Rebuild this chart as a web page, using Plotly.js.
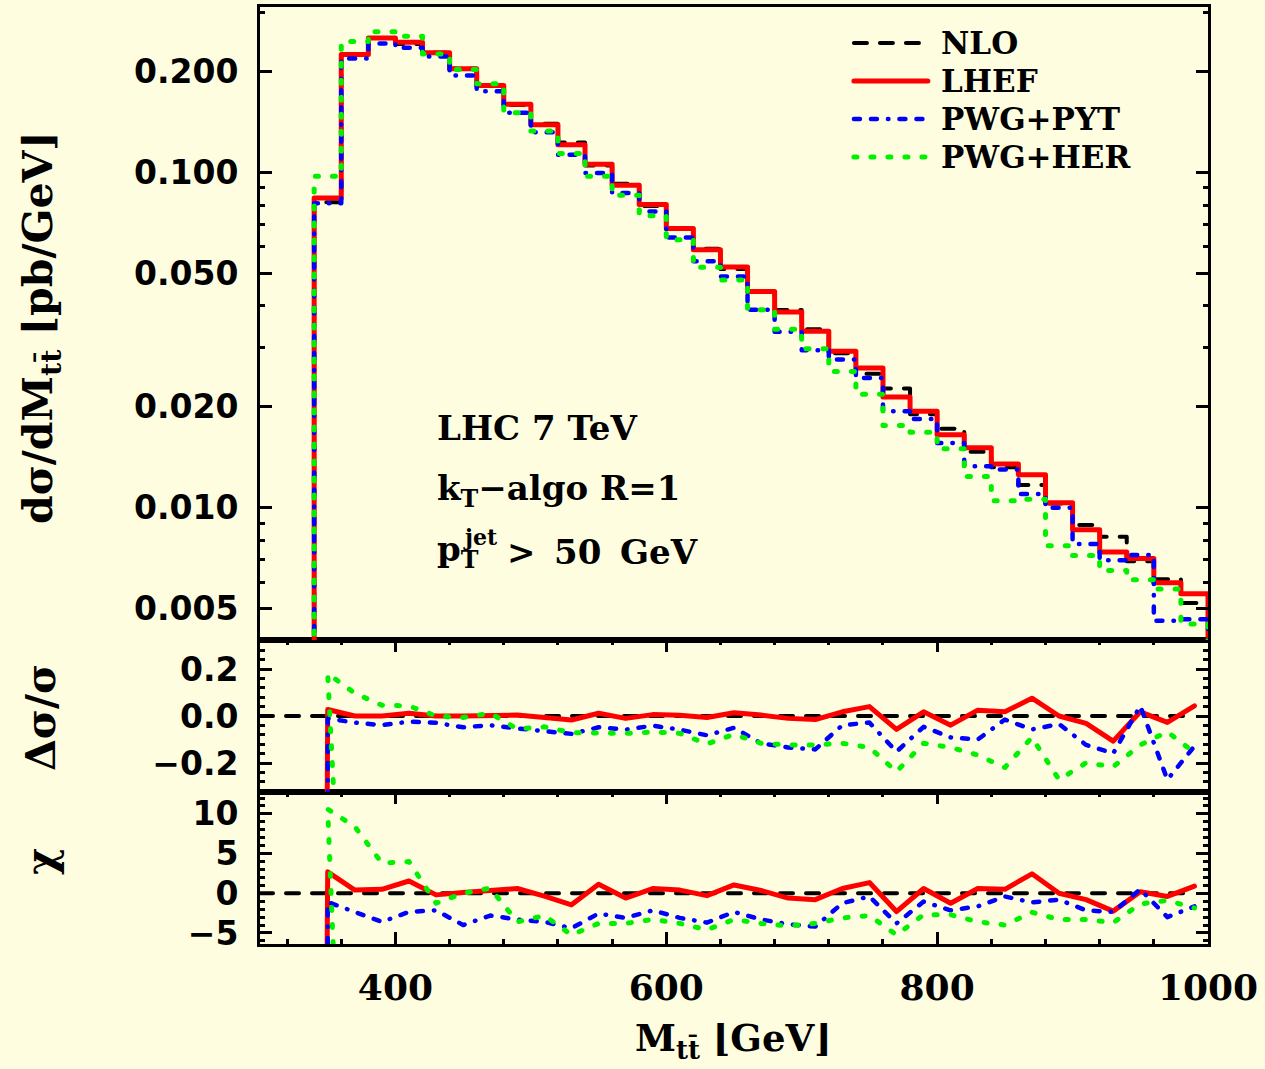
<!DOCTYPE html>
<html>
<head>
<meta charset="utf-8">
<script src="https://cdn.plot.ly/plotly-3.0.1.min.js"></script>
<style>
  html, body { margin: 0; padding: 0; background: #fffde0; }
  #chart { width: 1265px; height: 1069px; }
  .scatterlayer path.js-line, .shapelayer path { stroke-linecap: round; stroke-linejoin: round; }
</style>
</head>
<body>
<div id="chart"></div>
<script>
// M_tt bins (GeV): 20 GeV wide, 340 - 1000
const binEdges = [340, 360, 380, 400, 420, 440, 460, 480, 500, 520, 540, 560, 580, 600, 620, 640, 660,
  680, 700, 720, 740, 760, 780, 800, 820, 840, 860, 880, 900, 920, 940, 960, 980, 1000];
const binCentres = [350, 370, 390, 410, 430, 450, 470, 490, 510, 530, 550, 570, 590, 610, 630, 650, 670,
  690, 710, 730, 750, 770, 790, 810, 830, 850, 870, 890, 910, 930, 950, 970, 990];

// dsigma/dM_tt [pb/GeV] per bin
const nloXsec = [0.0816, 0.225, 0.252, 0.242, 0.228, 0.204, 0.182, 0.159, 0.140, 0.123, 0.105, 0.0926,
  0.0795, 0.0679, 0.0593, 0.0516, 0.0440, 0.0389, 0.0341, 0.0289, 0.0251, 0.0227, 0.0190, 0.0172,
  0.0147, 0.0132, 0.0117, 0.0103, 0.00888, 0.0082, 0.00693, 0.00612, 0.0052];
const lhefXsec = [0.0840, 0.225, 0.252, 0.245, 0.228, 0.204, 0.182, 0.160, 0.139, 0.121, 0.106, 0.0917,
  0.0803, 0.0681, 0.0589, 0.0523, 0.0442, 0.0384, 0.0336, 0.0293, 0.0261, 0.0214, 0.0194, 0.0165,
  0.0151, 0.0135, 0.01255, 0.01035, 0.0086, 0.00738, 0.00706, 0.00597, 0.00554];
const pwgPytXsec = [0.0810, 0.219, 0.243, 0.236, 0.222, 0.195, 0.175, 0.151, 0.132, 0.113, 0.0998, 0.0870,
  0.0766, 0.0640, 0.0544, 0.0490, 0.0390, 0.0335, 0.0295, 0.0277, 0.0244, 0.0194, 0.0184, 0.0156,
  0.0133, 0.0130, 0.0110, 0.0100, 0.0078, 0.00697, 0.00723, 0.00460, 0.00465];
const pwgHerXsec = [0.0975, 0.246, 0.263, 0.255, 0.226, 0.203, 0.184, 0.151, 0.133, 0.114, 0.0975, 0.0856,
  0.0743, 0.0630, 0.0522, 0.0478, 0.0390, 0.0341, 0.0298, 0.0255, 0.0218, 0.0176, 0.0168, 0.0150,
  0.0124, 0.0105, 0.0106, 0.0077, 0.0072, 0.0065, 0.0061, 0.00572, 0.0045];

// relative deviation from NLO, at bin centres
const lhefRatio = [0.028, 0, 0, 0.012, 0, 0, 0, 0.004, -0.006, -0.017, 0.012, -0.010, 0.006, 0.003, -0.006,
  0.014, 0.004, -0.010, -0.015, 0.018, 0.040, -0.057, 0.018, -0.039, 0.025, 0.018, 0.076, 0, -0.031,
  -0.107, 0.018, -0.027, 0.043];
const pwgPytRatio = [-0.010, -0.028, -0.039, -0.024, -0.029, -0.048, -0.039, -0.053, -0.066, -0.076, -0.048,
  -0.058, -0.041, -0.058, -0.082, -0.050, -0.116, -0.134, -0.142, -0.039, -0.028, -0.152, -0.046, -0.091,
  -0.100, -0.015, -0.057, -0.034, -0.123, -0.159, 0.043, -0.271, -0.128];
const pwgHerRatio = [0.181, 0.097, 0.046, 0.043, 0, -0.006, 0.012, -0.055, -0.046, -0.071, -0.071, -0.074,
  -0.068, -0.074, -0.119, -0.078, -0.116, -0.123, -0.123, -0.116, -0.134, -0.237, -0.116, -0.134, -0.166,
  -0.219, -0.091, -0.271, -0.199, -0.216, -0.123, -0.067, -0.156];

// chi = deviation from NLO in units of the statistical error
const lhefChi = [2.7, 0.4, 0.5, 1.55, -0.2, 0.1, 0.4, 0.6, -0.35, -1.45, 1.15, -0.6, 0.6, 0.4, -0.3, 1.05,
  0.35, -0.6, -0.8, 0.6, 1.35, -2.3, 0.6, -1.25, 0.6, 0.5, 2.45, 0, -0.8, -2.25, 0.2, -0.4, 0.9];
const pwgPytChi = [-1.1, -2.35, -3.6, -2.35, -2.15, -4.0, -2.8, -3.3, -3.6, -4.4, -2.55, -3.1, -2.15, -3.1,
  -3.7, -2.35, -3.3, -3.9, -4.2, -1.25, -0.4, -3.8, -1.05, -2.15, -1.65, -0.4, -1.15, -0.8, -2.15, -2.35,
  0.5, -3.0, -1.65];
const pwgHerChi = [10.6, 8.4, 3.8, 4.0, -1.25, 0, 0.65, -3.6, -2.8, -5.25, -3.8, -3.8, -3.3, -3.8, -4.6,
  -3.3, -3.8, -4.1, -3.8, -3.1, -2.8, -5.25, -2.7, -2.7, -3.6, -4.0, -2.4, -3.3, -3.3, -3.7, -1.35, -0.9,
  -1.85];

// threshold points (below the lowest filled bin) for the comparison panels
const lhefLead = { mass: 349, ratio: -1.0, chi: -20 };
const pwgPytLead = { mass: 350, ratio: -1.0, chi: -20 };
const pwgHerLead = { mass: 356, ratio: -0.5, chi: -15 };

// NLO reference line in the comparison panels
const nloRefMass = [300, 990];
const nloRefValue = [0, 0];

const yTickVals = [0.005, 0.01, 0.02, 0.05, 0.1, 0.2];
const yTickText = ['0.005', '0.010', '0.020', '0.050', '0.100', '0.200'];
const yMinorVals = [0.006, 0.007, 0.008, 0.009, 0.03, 0.04, 0.06, 0.07, 0.08, 0.09, 0.3];
const ratioTickVals = [-0.2, 0, 0.2];
const ratioTickText = ['\u22120.2', '0.0', '0.2'];
const chiTickVals = [-5, 0, 5, 10];
const chiTickText = ['\u22125', '0', '5', '10'];
const xTickVals = [400, 600, 800, 1000];

const seriesNames = ['NLO', 'LHEF', 'PWG+PYT', 'PWG+HER'];

const serif = 'DejaVu Serif';
const sans = 'DejaVu Sans';
const bg = '#fffde0';

const styles = {
  nlo: { color: '#000000', width: 4, dash: '13px,13px' },
  lhef: { color: '#ff0000', width: 5, dash: 'solid' },
  pyt: { color: '#0000ff', width: 4.5, dash: '6px,11px,6px,11px,0.5px,11px' },
  her: { color: '#00f000', width: 5, dash: '3px,14px' }
};

// closed step outline of a histogram (drops to below the axis at both ends)
function stepTrace(vals, name, st) {
  const floor = 1e-4;
  const x = [binEdges[0]];
  const y = [floor];
  for (let i = 0; i < vals.length; i++) { x.push(binEdges[i]); y.push(vals[i]); }
  x.push(binEdges[binEdges.length - 1]); y.push(vals[vals.length - 1]);
  x.push(binEdges[binEdges.length - 1]); y.push(floor);
  return { x, y, name, type: 'scatter', mode: 'lines', xaxis: 'x3', yaxis: 'y3',
    line: { shape: 'hv', color: st.color, width: st.width, dash: st.dash }, hoverinfo: 'skip' };
}

function curveTrace(lead, key, vals, name, st, xa, ya) {
  return { x: [lead.mass].concat(binCentres), y: [lead[key]].concat(vals), name,
    type: 'scatter', mode: 'lines', xaxis: xa, yaxis: ya,
    line: { color: st.color, width: st.width, dash: st.dash }, hoverinfo: 'skip' };
}

function refTrace(xa, ya) {
  return { x: nloRefMass, y: nloRefValue, type: 'scatter', mode: 'lines', xaxis: xa, yaxis: ya,
    line: { color: styles.nlo.color, width: 4, dash: styles.nlo.dash }, hoverinfo: 'skip' };
}

const traces = [
  stepTrace(nloXsec, seriesNames[0], styles.nlo),
  stepTrace(lhefXsec, seriesNames[1], styles.lhef),
  stepTrace(pwgPytXsec, seriesNames[2], styles.pyt),
  stepTrace(pwgHerXsec, seriesNames[3], styles.her),
  refTrace('x2', 'y2'),
  curveTrace(lhefLead, 'ratio', lhefRatio, seriesNames[1], styles.lhef, 'x2', 'y2'),
  curveTrace(pwgPytLead, 'ratio', pwgPytRatio, seriesNames[2], styles.pyt, 'x2', 'y2'),
  curveTrace(pwgHerLead, 'ratio', pwgHerRatio, seriesNames[3], styles.her, 'x2', 'y2'),
  refTrace('x', 'y'),
  curveTrace(lhefLead, 'chi', lhefChi, seriesNames[1], styles.lhef, 'x', 'y'),
  curveTrace(pwgPytLead, 'chi', pwgPytChi, seriesNames[2], styles.pyt, 'x', 'y'),
  curveTrace(pwgHerLead, 'chi', pwgHerChi, seriesNames[3], styles.her, 'x', 'y')
];

const frame = { showline: true, linecolor: '#000', linewidth: 3, showgrid: false, zeroline: false,
  ticks: 'inside', tickcolor: '#000', tickwidth: 3, ticklen: 12 };
const yLabelFont = { family: sans, size: 33, color: '#000', weight: 'bold' };

const layout = {
  width: 1265, height: 1069,
  paper_bgcolor: bg, plot_bgcolor: bg,
  margin: { l: 259.6, r: 57.4, t: 7, b: 125, pad: 0 },
  showlegend: false,
  xaxis: Object.assign({}, frame, { anchor: 'y', domain: [0, 1], range: [300, 1000], mirror: 'allticks',
    tickmode: 'array', tickvals: xTickVals, ticklabelstandoff: 10,
    tickfont: { family: serif, size: 36, color: '#000', weight: 'bold' },
    minor: { tick0: 0, dtick: 40, ticks: 'inside', ticklen: 5, tickwidth: 3, tickcolor: '#000' } }),
  yaxis: Object.assign({}, frame, { anchor: 'x', domain: [0, 0.1622], range: [-6.39, 12.76], mirror: 'allticks',
    tickmode: 'array', tickvals: chiTickVals, ticktext: chiTickText, tickfont: yLabelFont, ticklabelstandoff: 12,
    minor: { tick0: 0, dtick: 1, ticks: 'inside', ticklen: 5, tickwidth: 3, tickcolor: '#000' } }),
  xaxis2: Object.assign({}, frame, { anchor: 'y2', range: [300, 1000], side: 'top', mirror: true,
    tickmode: 'array', tickvals: xTickVals, showticklabels: false,
    minor: { tick0: 0, dtick: 40, ticks: 'inside', ticklen: 5, tickwidth: 3, tickcolor: '#000' } }),
  yaxis2: Object.assign({}, frame, { anchor: 'x2', domain: [0.1622, 0.3244], range: [-0.3234, 0.3234],
    mirror: 'allticks', tickmode: 'array', tickvals: ratioTickVals, ticktext: ratioTickText,
    tickfont: yLabelFont, ticklabelstandoff: 12,
    minor: { tick0: 0, dtick: 0.04, ticks: 'inside', ticklen: 5, tickwidth: 3, tickcolor: '#000' } }),
  xaxis3: Object.assign({}, frame, { anchor: 'y3', range: [300, 1000], mirror: true, ticks: '',
    showticklabels: false }),
  yaxis3: Object.assign({}, frame, { anchor: 'x3', domain: [0.3244, 1], type: 'log',
    range: [Math.log10(0.00403), Math.log10(0.312)], mirror: 'allticks',
    tickmode: 'array', tickvals: yTickVals, ticktext: yTickText, tickfont: yLabelFont, ticklabelstandoff: 12,
    minor: { tickmode: 'array', tickvals: yMinorVals, ticks: 'inside', ticklen: 5, tickwidth: 3, tickcolor: '#000' } }),
  annotations: [],
  shapes: []
};

const titleFont = { family: serif, size: 41, color: '#000', weight: 'bold' };
const textFont = { family: serif, size: 34, color: '#000', weight: 'bold' };
const legendFont = { family: serif, size: 31, color: '#000', weight: 'bold' };
const A = layout.annotations;

// axis titles
A.push({ xref: 'paper', yref: 'paper', x: -0.231, y: 0.6574, textangle: -90, showarrow: false,
  xanchor: 'center', yanchor: 'middle', font: titleFont,
  text: 'd\u03c3/dM<sub>tt\u0304</sub> \u230apb/GeV\u230b' });
A.push({ xref: 'paper', yref: 'paper', x: -0.231, y: 0.2412, textangle: -90, showarrow: false,
  xanchor: 'center', yanchor: 'middle', font: titleFont, text: '\u0394\u03c3/\u03c3' });
A.push({ xref: 'paper', yref: 'paper', x: -0.231, y: 0.0875, textangle: -90, showarrow: false,
  xanchor: 'center', yanchor: 'middle', font: titleFont, text: '\u03c7' });
A.push({ xref: 'paper', yref: 'paper', x: 0.4995, y: -0.1025, showarrow: false,
  xanchor: 'center', yanchor: 'middle', font: { family: serif, size: 37, color: '#000', weight: 'bold' },
  text: 'M<sub>tt\u0304</sub> \u230aGeV\u230b' });

// process description
A.push({ xref: 'paper', yref: 'paper', x: 0.185, y: 0.551, showarrow: false, xanchor: 'left',
  yanchor: 'middle', font: textFont, text: 'LHC 7 TeV' });
A.push({ xref: 'paper', yref: 'paper', x: 0.185, y: 0.4835, showarrow: false, xanchor: 'left',
  yanchor: 'middle', font: textFont, text: 'k<sub>T</sub>\u2212algo R=1' });
A.push({ xref: 'paper', yref: 'paper', x: 0.185, y: 0.4184, showarrow: false, xanchor: 'left',
  yanchor: 'middle', font: textFont, text: 'p<sub>T</sub>' });
A.push({ xref: 'paper', yref: 'paper', x: 0.2115, y: 0.4343, showarrow: false, xanchor: 'left',
  yanchor: 'middle', font: { family: serif, size: 22, color: '#000', weight: 'bold' }, text: 'jet' });
A.push({ xref: 'paper', yref: 'paper', x: 0.2589, y: 0.4184, showarrow: false, xanchor: 'left',
  yanchor: 'middle', font: textFont, text: '>\u00a0\u200950\u00a0\u2009GeV' });

// legend
const legendRows = [0.9616, 0.921, 0.8805, 0.840];
const legendStyles = [styles.nlo, styles.lhef, styles.pyt, styles.her];
seriesNames.forEach((name, i) => {
  const st = legendStyles[i];
  layout.shapes.push({ type: 'line', xref: 'paper', yref: 'paper', x0: 0.6265, x1: 0.7045,
    y0: legendRows[i], y1: legendRows[i], line: { color: st.color, width: st.width, dash: st.dash } });
  A.push({ xref: 'paper', yref: 'paper', x: 0.7165, y: legendRows[i], showarrow: false, xanchor: 'left',
    yanchor: 'middle', font: legendFont, text: name });
});

Plotly.newPlot('chart', traces, layout, { staticPlot: true, displayModeBar: false });
</script>
</body>
</html>
